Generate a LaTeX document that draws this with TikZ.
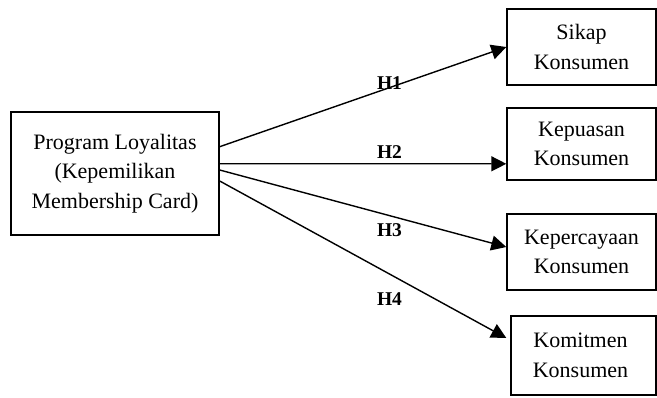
\documentclass[tikz,border=0pt]{standalone}
\usepackage{fontspec}
\setmainfont{Liberation Serif}
\usetikzlibrary{arrows.meta,calc}
\begin{document}
\begin{tikzpicture}[x=1pt,y=-1pt,
  box/.style={draw,line width=1.4pt,rectangle,inner sep=0pt,align=center,
    font=\fontsize{22}{29.5}\selectfont},
  arr/.style={line width=1.4pt,-{Triangle[length=15pt,width=15pt]}},
  hlab/.style={font=\fontsize{19.5}{21}\selectfont\bfseries,inner sep=0pt}]
\useasboundingbox (0,0) rectangle (657,397);
\node[box,minimum width=208pt,minimum height=123pt] (L) at (115,173.5)
  {Program Loyalitas\\(Kepemilikan\\Membership Card)};
\node[box,minimum width=149pt,minimum height=76pt] (S) at (581.5,47) {Sikap\\Konsumen};
\node[box,minimum width=149pt,minimum height=72pt] (P) at (581.5,144) {Kepuasan\\Konsumen};
\node[box,minimum width=149pt,minimum height=76pt] (C) at (581.5,252) {Kepercayaan\\Konsumen};
\node[box,minimum width=145pt,minimum height=79pt] (K) at (583.5,355.5) {\hspace*{-6pt}Komitmen\\\hspace*{-6pt}Konsumen};
\draw[arr] ($(L.east)+(0,-26.8)$) -- (S.west);
\draw[arr] ($(L.east)+(0,-9.8)$) -- ($(P.west)+(0,19.8)$);
\draw[arr] ($(L.east)+(0,-3.5)$) -- ($(C.west)+(0,-5)$);
\draw[arr] ($(L.east)+(0,7.5)$) -- ($(K.west)+(-4,-17.5)$);
\node[hlab] (h1) at (389.5,83) {H1};
\node[hlab] (h2) at (389.5,152) {H2};
\node[hlab] (h3) at (389.5,230.5) {H3};
\node[hlab] (h4) at (389.5,299) {H4};
\end{tikzpicture}
\end{document}
